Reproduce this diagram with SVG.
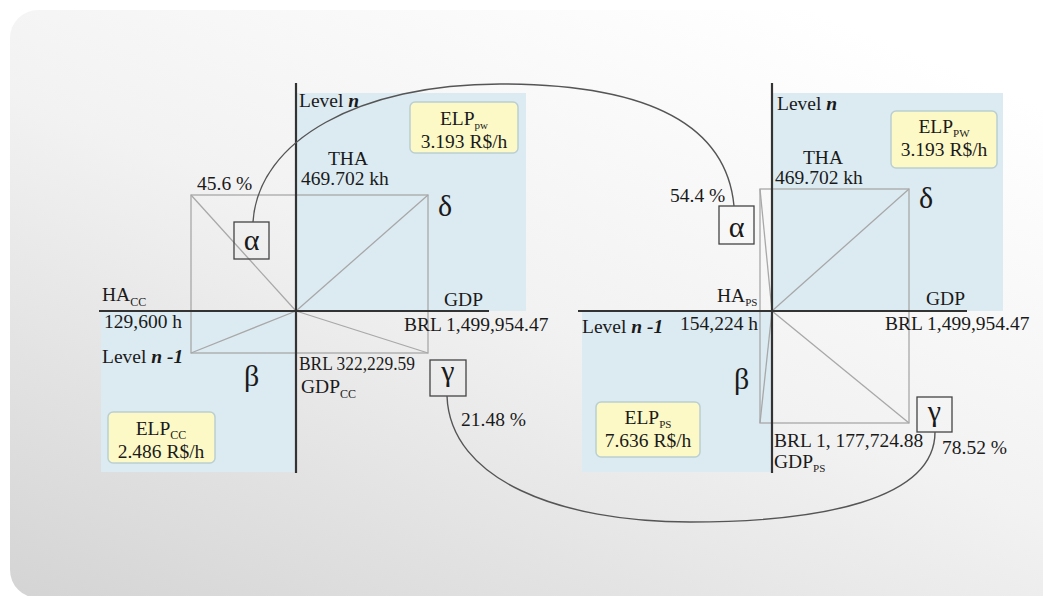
<svg xmlns="http://www.w3.org/2000/svg" width="1043" height="596" viewBox="0 0 1043 596">
  <defs>
    <linearGradient id="panelFill" x1="0" y1="1" x2="0.75" y2="0">
      <stop offset="0" stop-color="#d4d4d4"/>
      <stop offset="0.55" stop-color="#f2f2f2"/>
      <stop offset="1" stop-color="#ffffff"/>
    </linearGradient>
  </defs>
  <style>
    text { font-family: "Liberation Serif", "Times New Roman", serif; fill: #1a1a1a; font-size: 19.5px; }
    .greek { font-family: "Liberation Serif", "DejaVu Serif", serif; font-size: 30px; }
    .sub { font-size: 12px; }
    .bsub { font-size: 11px; }
    .bi { font-weight: bold; font-style: italic; }
    .zone { fill: #dcebf2; }
    .axis { stroke: #333; stroke-width: 2.2; fill: none; }
    .frame { stroke: #a8a8a8; stroke-width: 1.3; fill: none; }
    .tag { stroke: #444; stroke-width: 1.3; fill: none; }
    .elp { fill: #fcf9c6; stroke: #b9cfd2; stroke-width: 1.5; }
    .link { stroke: #555; stroke-width: 1.4; fill: none; }
  </style>

  <rect width="1043" height="596" fill="#ffffff"/>
  <rect x="10" y="10" width="1070" height="588" rx="28" fill="url(#panelFill)"/>

  <!-- Left quadrant chart (cc) -->
  <g id="chart-cc">
    <rect class="zone" x="296" y="93" width="230" height="218"/>
    <rect class="zone" x="101" y="311" width="195" height="161"/>
    <rect class="frame" x="191" y="195" width="237" height="158"/>
    <line class="frame" x1="191" y1="195" x2="296" y2="311"/>
    <line class="frame" x1="428" y1="195" x2="296" y2="311"/>
    <line class="frame" x1="191" y1="353" x2="296" y2="311"/>
    <line class="frame" x1="428" y1="353" x2="296" y2="311"/>
    <line class="axis" x1="296" y1="83" x2="296" y2="473"/>
    <line class="axis" x1="99" y1="311" x2="489" y2="311"/>
    <text x="299" y="107">Level <tspan class="bi">n</tspan></text>
    <text x="348" y="165" text-anchor="middle">THA</text>
    <text x="301" y="185">469.702 kh</text>
    <text x="197" y="190">45.6 %</text>
    <text class="greek" x="438" y="216">δ</text>
    <text x="102" y="301">HA<tspan class="sub" font-size="14" dy="5">CC</tspan></text>
    <text x="104" y="328">129,600 h</text>
    <text x="444" y="306">GDP</text>
    <text x="404" y="331">BRL 1,499,954.47</text>
    <text x="102" y="363">Level <tspan class="bi">n -1</tspan></text>
    <text class="greek" x="244" y="386" font-size="27">β</text>
    <text x="299" y="370" textLength="116" lengthAdjust="spacingAndGlyphs">BRL 322,229.59</text>
    <text x="301" y="393">GDP<tspan class="sub" font-size="14" dy="5">CC</tspan></text>
    <text x="461" y="426">21.48 %</text>
  </g>

  <g id="tag-alpha-cc">
    <rect class="tag" x="234" y="222" width="35" height="37"/>
    <text class="greek" x="251.5" y="250" text-anchor="middle">α</text>
  </g>
  <g id="tag-gamma-cc">
    <rect class="tag" x="430" y="360" width="36" height="36"/>
    <text class="greek" x="448" y="381" text-anchor="middle">γ</text>
  </g>
  <g id="elp-pw-cc">
    <rect class="elp" x="410" y="102" width="108" height="51" rx="5"/>
    <text x="464" y="125" text-anchor="middle">ELP<tspan class="bsub" dy="4">pw</tspan></text>
    <text x="464" y="148" text-anchor="middle">3.193 R$/h</text>
  </g>
  <g id="elp-cc">
    <rect class="elp" x="108" y="412" width="107" height="51" rx="5"/>
    <text x="161" y="435" text-anchor="middle">ELP<tspan class="sub" dy="4">CC</tspan></text>
    <text x="161" y="458" text-anchor="middle">2.486 R$/h</text>
  </g>

  <!-- Right quadrant chart (ps) -->
  <g id="chart-ps">
    <rect class="zone" x="772" y="93" width="231" height="218"/>
    <rect class="zone" x="582" y="311" width="190" height="161"/>
    <rect class="frame" x="760" y="189" width="149" height="234"/>
    <line class="frame" x1="760" y1="189" x2="772" y2="311"/>
    <line class="frame" x1="909" y1="189" x2="772" y2="311"/>
    <line class="frame" x1="760" y1="423" x2="772" y2="311"/>
    <line class="frame" x1="909" y1="423" x2="772" y2="311"/>
    <line class="axis" x1="772" y1="83" x2="772" y2="473"/>
    <line class="axis" x1="578" y1="311" x2="967" y2="311"/>
    <text x="777" y="110">Level <tspan class="bi">n</tspan></text>
    <text x="823" y="164" text-anchor="middle">THA</text>
    <text x="775" y="184">469.702 kh</text>
    <text x="670" y="202">54.4 %</text>
    <text class="greek" x="919" y="208" font-size="28">δ</text>
    <text x="717" y="302">HA<tspan class="bsub" dy="4">PS</tspan></text>
    <text x="926" y="305">GDP</text>
    <text x="885" y="330">BRL 1,499,954.47</text>
    <text x="582" y="333">Level <tspan class="bi">n -1</tspan></text>
    <text x="680" y="330">154,224 h</text>
    <text class="greek" x="734" y="389" font-size="27">β</text>
    <text x="774" y="447">BRL 1, 177,724.88</text>
    <text x="774" y="468">GDP<tspan class="bsub" dy="4">PS</tspan></text>
    <text x="942" y="454">78.52 %</text>
  </g>

  <g id="tag-alpha-ps">
    <rect class="tag" x="719" y="206" width="35" height="38"/>
    <text class="greek" x="736.5" y="237" text-anchor="middle">α</text>
  </g>
  <g id="tag-gamma-ps">
    <rect class="tag" x="917" y="397" width="35" height="35"/>
    <text class="greek" x="934.5" y="421" text-anchor="middle" font-size="28">γ</text>
  </g>
  <g id="elp-pw-ps">
    <rect class="elp" x="891" y="111" width="106" height="57" rx="5"/>
    <text x="944" y="133" text-anchor="middle">ELP<tspan class="bsub" dy="4">PW</tspan></text>
    <text x="944" y="156" text-anchor="middle">3.193 R$/h</text>
  </g>
  <g id="elp-ps">
    <rect class="elp" x="596" y="402" width="104" height="55" rx="5"/>
    <text x="648" y="424" text-anchor="middle">ELP<tspan class="bsub" dy="4">PS</tspan></text>
    <text x="648" y="447" text-anchor="middle">7.636 R$/h</text>
  </g>

  <!-- Arcs joining the matching tags of both charts -->
  <g id="connectors">
    <path class="link" d="M253,222 C258,140 360,84 500,84 C620,84 725,110 734,206"/>
    <path class="link" d="M447,396 C450,480 560,522 690,522 C820,522 935,500 935,432"/>
  </g>
</svg>
